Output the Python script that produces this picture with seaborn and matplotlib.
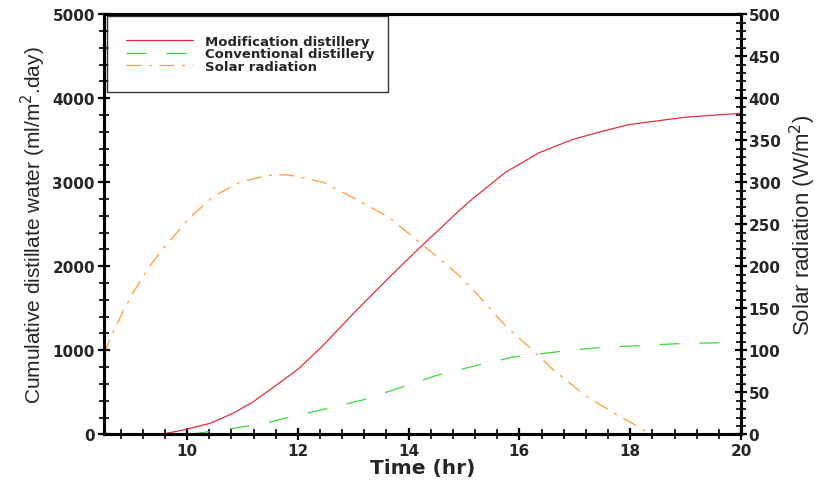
import numpy as np
import pandas as pd
import seaborn as sns
import matplotlib
matplotlib.use("Agg")
import matplotlib.pyplot as plt
from matplotlib.ticker import MultipleLocator
from matplotlib.lines import Line2D

# Data
time_mod = [9.54, 9.99, 10.41, 10.83, 11.19, 11.62, 11.85, 12.03, 12.45, 13.05, 13.65, 14.25,
            14.55, 14.91, 15.15, 15.75, 16.35, 16.95, 17.43, 17.97, 18.99, 20.0]
modified = [0, 60, 130, 250, 385, 590, 700, 790, 1055, 1470, 1869, 2254,
            2436, 2662, 2801, 3119, 3350, 3507, 3595, 3686, 3774, 3821]

time_conv = [10.05, 10.83, 11.43, 11.76, 12.16, 13.24, 13.77, 14.49, 15.21, 15.87, 16.84,
             17.43, 18.28, 18.99, 19.71, 20.0]
conventional = [0, 71, 135, 190, 250, 420, 539, 698, 817, 917, 995,
                1032, 1060, 1083, 1090, 1095]

time_solar = [8.5, 8.66, 8.85, 9.03, 9.32, 9.63, 10.05, 10.47, 10.95, 11.43, 11.79, 12.03,
              12.45, 13.05, 13.65, 14.25, 14.67, 14.91, 15.15, 15.75, 16.35, 16.59, 17.19,
              17.79, 18.03, 18.27]
solar = [96, 121, 147, 169, 200, 226, 258, 283, 300, 308, 309, 306.5,
         300, 280, 258, 225.7, 202.7, 189, 173, 129, 93.6, 78, 46,
         22, 13.5, 4]

sns.set_theme(style="white")
plt.rcParams['font.family'] = ['DejaVu Sans']

fig = plt.figure(figsize=(8.28, 4.81), dpi=100)
ax = fig.add_axes([0.1256, 0.0950, 0.7693, 0.8733])
ax2 = ax.twinx()

red = '#e0303c'
green = '#3ed63e'
orange = '#ff9a3c'
green_dash = [16, 16]
orange_dash = [12, 6, 2.4, 6]

sns.lineplot(x=time_mod, y=modified, ax=ax, color=red, lw=0.9)
sns.lineplot(x=time_conv, y=conventional, ax=ax, color=green, lw=0.9)
ax.lines[-1].set_dashes(green_dash)
sns.lineplot(x=time_solar, y=solar, ax=ax2, color=orange, lw=0.9)
ax2.lines[-1].set_dashes(orange_dash)

ax.set_xlim(8.5, 20)
ax.set_ylim(0, 5000)
ax2.set_ylim(0, 500)

ax.xaxis.set_major_locator(MultipleLocator(2))
ax.xaxis.set_minor_locator(MultipleLocator(0.4))
ax.yaxis.set_major_locator(MultipleLocator(1000))
ax.yaxis.set_minor_locator(MultipleLocator(200))
ax2.yaxis.set_major_locator(MultipleLocator(50))
ax2.yaxis.set_minor_locator(MultipleLocator(10))

for a in (ax, ax2):
    for s in a.spines.values():
        s.set_color('black')
        s.set_linewidth(2.2)

ax.tick_params(axis='both', which='major', direction='inout', length=9, width=1.6,
               color='black', labelsize=11, pad=2, bottom=True, left=True, top=False, right=False)
ax.tick_params(axis='both', which='minor', direction='inout', length=7, width=1.2,
               color='black', bottom=True, left=True, top=False, right=False)
ax2.tick_params(axis='y', which='major', direction='inout', length=9, width=1.6,
                color='black', labelsize=11, pad=1, right=True)
ax2.tick_params(axis='y', which='minor', direction='inout', length=7, width=1.2,
                color='black', right=True)

for lab in ax.get_xticklabels() + ax.get_yticklabels() + ax2.get_yticklabels():
    lab.set_fontweight('bold')

ax.set_xlabel('Time (hr)', fontsize=14.5, fontweight='bold', labelpad=0)
ax.set_ylabel('Cumulative distillate water (ml/m$^2$.day)', fontsize=15,
              family=['Liberation Sans'], labelpad=3)
ax2.set_ylabel('Solar radiation (W/m$^2$)', fontsize=16,
               family=['Liberation Sans'], labelpad=5)

handles = [
    Line2D([], [], color=red, lw=0.9),
    Line2D([], [], color=green, lw=0.9, dashes=green_dash),
    Line2D([], [], color=orange, lw=0.9, dashes=orange_dash),
]
labels = ['Modification distillery', 'Conventional distillery', 'Solar radiation']
leg = ax.legend(handles, labels, loc='upper left',
                bbox_to_anchor=(0.0047, 0.996, 0.441, 0.0), mode='expand',
                prop={'size': 9.5, 'weight': 'bold'}, frameon=True, fancybox=False,
                handlelength=5.1, handletextpad=0.9, borderpad=1.45, labelspacing=-0.05,
                borderaxespad=0)
leg.get_frame().set_edgecolor('black')
leg.get_frame().set_linewidth(1.0)
leg.get_frame().set_boxstyle('square', pad=0)

fig.savefig('out.png', dpi=100)
